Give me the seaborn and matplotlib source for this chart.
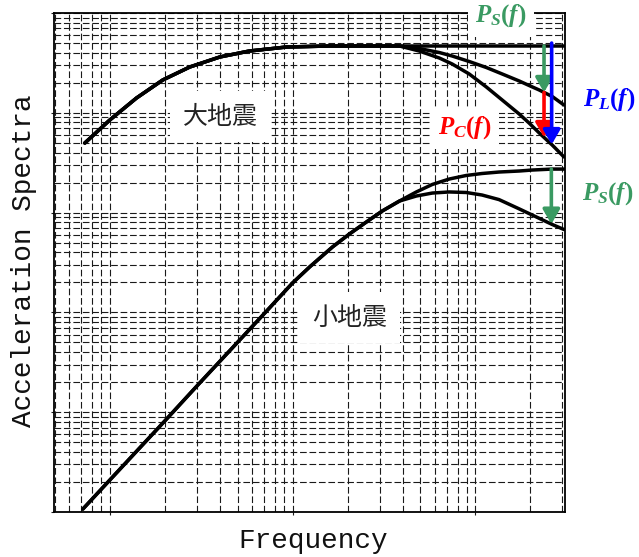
import numpy as np
import pandas as pd
import matplotlib
matplotlib.use("Agg")
import matplotlib.pyplot as plt
from matplotlib.ticker import LogLocator, NullFormatter
import seaborn as sns

# ---- spectra (frequency in Hz, acceleration in arbitrary units) ----
large_freq = [0.073, 0.10, 0.14, 0.195, 0.274, 0.40, 0.58, 0.93, 1.6,
              3.85, 4.94, 6.36, 7.48, 9.27, 11.5, 14.05, 17.4, 19.7,
              22.4, 26.4, 30.6]
large_base = [498, 847, 1407, 2133, 2877, 3624, 4159, 4565, 4670,
              4670, 4670, 4670, 4670, 4670, 4670, 4670, 4670, 4670,
              4670, 4670, 4670]
large_ps = [498, 847, 1407, 2133, 2877, 3624, 4159, 4565, 4670,
            4670, 4407, 4018, 3707, 3266, 2844, 2449, 2084, 1879,
            1692, 1456, 1197]
large_pl = [498, 847, 1407, 2133, 2877, 3624, 4159, 4565, 4670,
            4670, 4159, 3540, 3083, 2449, 1815, 1343, 973, 791,
            628, 475, 361]

small_freq = [0.0712, 0.10, 0.20, 0.303, 0.721, 1.0, 1.24, 1.654, 2.05, 2.537,
              3.10, 3.85, 4.76, 5.82, 7.21, 8.93, 10.9, 13.5, 17.4, 20.5,
              26.4, 30.6]
small_base = [0.107, 0.209, 0.817, 1.87, 10.3, 19.7, 28.5, 45.2, 61.1, 80.5,
              103.8, 130.6, 161, 191.4, 217, 235.5, 246.5, 255, 261, 267,
              273, 273]
small_ps = [0.107, 0.209, 0.817, 1.87, 10.3, 19.7, 28.5, 45.2, 61.1, 80.5,
            103.8, 130.6, 146.6, 157, 161, 159, 150, 135, 109, 94.6,
            76.0, 67.7]

# frequencies where the reduction arrows are drawn
ps_large_f = 23.8
pl_large_f = 26.2
ps_small_f = 26.1

labels_cn = ["大地震", "小地震"]
x_label = "Frequency"
y_label = "Acceleration Spectra"

GREEN = "#3a9a62"
RED = "#ff0000"
BLUE = "#0000ff"

sns.set_style("white")
plt.rcParams["mathtext.fontset"] = "custom"
plt.rcParams["mathtext.rm"] = "Liberation Serif:bold"
plt.rcParams["mathtext.it"] = "Liberation Serif:italic:bold"
plt.rcParams["mathtext.bf"] = "Liberation Serif:bold"

W, H = 639, 557
fig = plt.figure(figsize=(W / 100, H / 100), dpi=100)
ax = fig.add_axes([54 / W, 45 / H, 511 / W, 499 / H])

ax.set_xscale("log")
ax.set_yscale("log")
ax.set_xlim(0.0495, 31.0)
ax.set_ylim(0.1, 1e4)

# dashed log grid
ax.xaxis.set_major_locator(LogLocator(base=10, numticks=20))
ax.yaxis.set_major_locator(LogLocator(base=10, numticks=20))
ax.xaxis.set_minor_locator(LogLocator(base=10, subs=np.arange(2, 10), numticks=40))
ax.yaxis.set_minor_locator(LogLocator(base=10, subs=np.arange(2, 10), numticks=40))
for axis in (ax.xaxis, ax.yaxis):
    axis.set_major_formatter(NullFormatter())
    axis.set_minor_formatter(NullFormatter())
ax.grid(which="both", color="#1a1a1a", linestyle=(0, (6, 2.5)), linewidth=0.8)
ax.tick_params(which="major", length=2, width=0.8, direction="out",
               left=True, bottom=True, colors="#1a1a1a")
ax.tick_params(which="minor", length=0)
for s in ax.spines.values():
    s.set_color("black")
    s.set_linewidth(1.3)
ax.set_axisbelow(True)

def curve(freq, vals):
    df = pd.DataFrame({"f": freq, "a": vals})
    sns.lineplot(data=df, x="f", y="a", ax=ax, color="black", linewidth=2.5,
                 sort=False, estimator=None, zorder=3)

curve(large_freq, large_base)
curve(large_freq, large_ps)
curve(large_freq, large_pl)
curve(small_freq, small_base)
curve(small_freq, small_ps)
ax.set_xlabel("")
ax.set_ylabel("")

def at(freq, vals, f):
    return 10 ** np.interp(np.log10(f), np.log10(freq), np.log10(vals))

def arrow(f, y0, y1, color):
    ax.annotate("", xy=(f, y1), xytext=(f, y0),
                arrowprops=dict(arrowstyle="-|>,head_length=0.55,head_width=0.32",
                                color=color, lw=2.6, shrinkA=0, shrinkB=0,
                                mutation_scale=16),
                zorder=5)

arrow(ps_large_f, at(large_freq, large_base, ps_large_f),
      at(large_freq, large_ps, ps_large_f), GREEN)
arrow(ps_large_f, at(large_freq, large_ps, ps_large_f),
      at(large_freq, large_pl, ps_large_f), RED)
arrow(pl_large_f, at(large_freq, large_base, pl_large_f) * 1.07,
      at(large_freq, large_pl, pl_large_f), BLUE)
arrow(ps_small_f, at(small_freq, small_base, ps_small_f),
      at(small_freq, small_ps, ps_small_f), GREEN)

# function labels
lab = dict(ha="center", va="center", fontsize=18, transform=ax.transAxes,
           clip_on=False, zorder=6)
ax.text(0.875, 0.994, r"$P_S(f)$", color=GREEN,
        bbox=dict(boxstyle="square,pad=0.3", fc="white", ec="none"), **lab)
ax.text(1.086, 0.826, r"$P_L(f)$", color=BLUE, **lab)
ax.text(0.804, 0.770, r"$P_C(f)$", color=RED,
        bbox=dict(boxstyle="square,pad=0.3", fc="white", ec="none"), **lab)
ax.text(1.084, 0.639, r"$P_S(f)$", color=GREEN, **lab)

cn = dict(ha="center", va="center", fontsize=18, color="#222222",
          family=["Noto Sans CJK JP", "DejaVu Sans"], transform=ax.transAxes,
          zorder=4, bbox=dict(boxstyle="square,pad=0.5", fc="white", ec="none"))
ax.text(0.325, 0.792, labels_cn[0], **cn)
ax.text(0.579, 0.389, labels_cn[1], **cn)

fig.text(313 / W, 1 - 541 / H, x_label, ha="center", va="center",
         family="Liberation Mono", fontsize=20, color="#111111")
fig.text(24 / W, 1 - 261 / H, y_label, ha="center", va="center",
         rotation=90, family="Liberation Mono", fontsize=20, color="#111111")

fig.savefig("out.png", dpi=100, facecolor="white")
